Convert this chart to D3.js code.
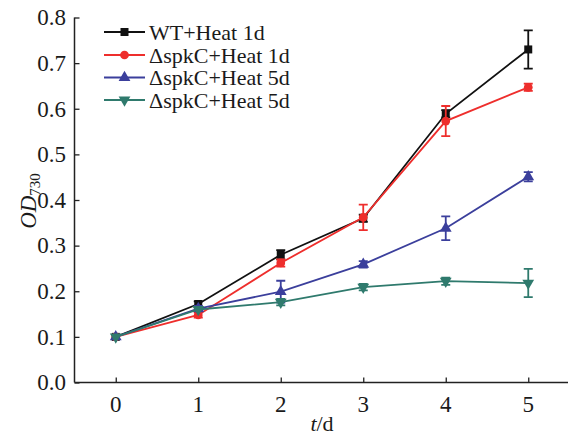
<!DOCTYPE html>
<html><head><meta charset="utf-8">
<script src="https://cdn.jsdelivr.net/npm/d3@7"></script>
<style>body{margin:0;background:#fff}svg{display:block}text{font-family:"Liberation Serif","Times New Roman",serif;fill:#1a1a1a}</style>
</head><body><svg id="c" width="568" height="437"></svg>
<script>
const days = [0, 1, 2, 3, 4, 5];
const yTicks = [0.0, 0.1, 0.2, 0.3, 0.4, 0.5, 0.6, 0.7, 0.8];
const seriesNames = ["WT+Heat 1d", "ΔspkC+Heat 1d", "ΔspkC+Heat 5d", "ΔspkC+Heat 5d"];
const wtHeat1d = [0.100, 0.172, 0.280, 0.360, 0.589, 0.730];
const wtHeat1dErr = [0.004, 0.006, 0.010, 0.008, 0.008, 0.042];
const spkHeat1d = [0.100, 0.148, 0.262, 0.362, 0.573, 0.647];
const spkHeat1dErr = [0.004, 0.006, 0.008, 0.028, 0.033, 0.008];
const spkHeat5dA = [0.100, 0.162, 0.199, 0.259, 0.338, 0.451];
const spkHeat5dAErr = [0.004, 0.006, 0.024, 0.007, 0.026, 0.010];
const spkHeat5dB = [0.100, 0.160, 0.176, 0.209, 0.222, 0.218];
const spkHeat5dBErr = [0.004, 0.005, 0.007, 0.007, 0.008, 0.031];
const colors = ["#111111", "#ee2e2c", "#3b3f9c", "#2f7a6d"];
const symbols = [d3.symbolSquare, d3.symbolCircle, d3.symbolTriangle, "down"];

const svg = d3.select("#c");
const x = d3.scaleLinear().domain([-0.5, 5.5]).range([74.5, 569.5]);
const y = d3.scaleLinear().domain([0, 0.8]).range([382.5, 17.5]);

// axes
const yAxis = svg.append("g").attr("transform", "translate(74.5,0)")
  .call(d3.axisRight(y).tickValues(yTicks).tickSize(5).tickFormat(""));
const xAxis = svg.append("g").attr("transform", "translate(0,382.5)")
  .call(d3.axisTop(x).tickValues(days).tickSize(5).tickFormat(""));
[yAxis, xAxis].forEach(g => {
  g.select(".domain").attr("stroke", "#222").attr("stroke-width", 1.5);
  g.selectAll(".tick line").attr("stroke", "#222").attr("stroke-width", 1.3);
});
yAxis.select(".domain").attr("d", "M0,17.5V382.5");
xAxis.select(".domain").attr("d", "M74.5,0H569.5");

svg.append("g").selectAll("text").data(yTicks).join("text")
  .attr("x", 66).attr("y", d => y(d)).attr("dy", "0.34em")
  .attr("text-anchor", "end").attr("font-size", 23)
  .text(d => d3.format(".1f")(d));
svg.append("g").selectAll("text").data(days).join("text")
  .attr("x", d => x(d)).attr("y", 412)
  .attr("text-anchor", "middle").attr("font-size", 23)
  .text(d => d);

// axis titles
const xt = svg.append("text").attr("x", 322).attr("y", 431).attr("text-anchor", "middle").attr("font-size", 22);
xt.append("tspan").attr("font-style", "italic").text("t");
xt.append("tspan").text("/d");
const yt = svg.append("text").attr("transform", "translate(36,201) rotate(-90)").attr("text-anchor", "middle").attr("font-size", 23);
yt.append("tspan").attr("font-style", "italic").text("OD");
yt.append("tspan").attr("font-size", 15).attr("dy", 4).text("730");

const data = [
  {vals: wtHeat1d, err: wtHeat1dErr},
  {vals: spkHeat1d, err: spkHeat1dErr},
  {vals: spkHeat5dA, err: spkHeat5dAErr},
  {vals: spkHeat5dB, err: spkHeat5dBErr}
];

function markerPath(i) {
  if (symbols[i] === "down") return d3.symbol(d3.symbolTriangle).size(60)();
  const sz = i === 0 ? 64 : 60;
  return d3.symbol(symbols[i]).size(sz)();
}
function rot(i) { return symbols[i] === "down" ? " rotate(180)" : ""; }

const line = d3.line().x((d, j) => x(days[j])).y(d => y(d));
data.forEach((s, i) => {
  const g = svg.append("g");
  g.append("path").attr("d", line(s.vals)).attr("fill", "none")
    .attr("stroke", colors[i]).attr("stroke-width", 1.8);
  s.vals.forEach((v, j) => {
    const cx = x(days[j]), e = s.err[j];
    if (e > 0.005) {
      g.append("path").attr("d", `M${cx},${y(v + e)}V${y(v - e)}M${cx - 4.5},${y(v + e)}H${cx + 4.5}M${cx - 4.5},${y(v - e)}H${cx + 4.5}`)
        .attr("stroke", colors[i]).attr("stroke-width", 1.8).attr("fill", "none");
    }
    g.append("path").attr("d", markerPath(i)).attr("transform", `translate(${cx},${y(v)})${rot(i)}`)
      .attr("fill", colors[i]);
  });
});

// legend
const ly = [32, 55, 77.5, 100];
seriesNames.forEach((n, i) => {
  const g = svg.append("g").attr("transform", `translate(0,${ly[i]})`);
  g.append("line").attr("x1", 104).attr("x2", 145).attr("stroke", colors[i]).attr("stroke-width", 1.8);
  g.append("path").attr("d", markerPath(i)).attr("transform", `translate(124.5,0)${rot(i)}`).attr("fill", colors[i]);
  g.append("text").attr("x", 149).attr("y", 7.5).attr("font-size", 22).attr("textLength", null).text(n);
});
</script></body></html>
